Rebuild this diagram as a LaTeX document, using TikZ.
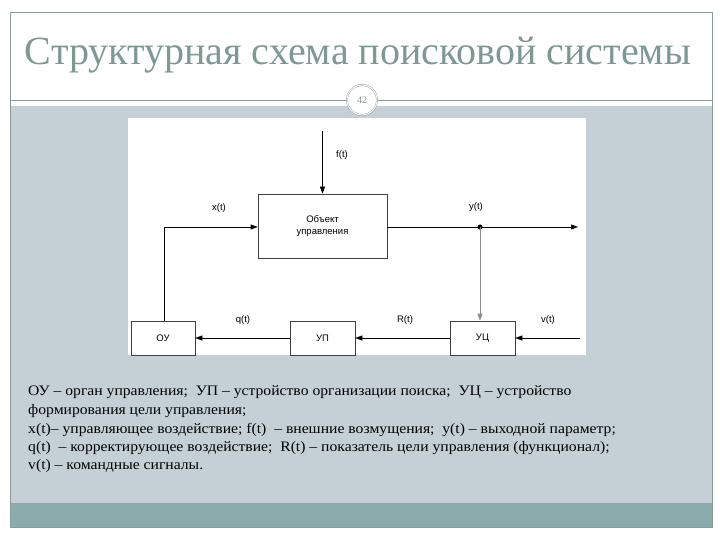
\documentclass[tikz,border=0pt]{standalone}
\usepackage{fontspec}
\setmainfont{Liberation Serif}
\newfontfamily\dsans{Liberation Sans}
\usetikzlibrary{arrows.meta}
\definecolor{slgray}{HTML}{C5D0D6}
\definecolor{slteal}{HTML}{8AACAC}
\definecolor{sltitle}{HTML}{7E9893}
\definecolor{slline}{HTML}{8A9A98}
\begin{document}
\begin{tikzpicture}[x=1pt,y=-1pt,
  blk/.style={draw=black!75,fill=white,line width=0.6pt,inner sep=0pt},
  lbl/.style={font=\dsans\fontsize{9.5}{10}\selectfont,inner sep=1pt},
  arr/.style={-{Triangle[length=7pt,width=5pt]},line width=0.6pt},
  desc/.style={font=\fontsize{14.5}{16}\selectfont,anchor=west,inner sep=0pt,xscale=1.08}]
\useasboundingbox (0,0) rectangle (720,540);
\fill[white] (0,0) rectangle (720,540);
\fill[slgray] (10,106) rectangle (712,503);
\fill[slteal] (10,503) rectangle (712,527);
\draw[slline,line width=0.6pt] (10,12) rectangle (712,527);
\draw[slline,line width=0.8pt] (10,100) -- (712,100);
\node[circle,draw=slline,double=white,double distance=1pt,fill=white,minimum size=30pt,inner sep=0pt,font=\fontsize{10}{10}\selectfont,text=slline] (pg) at (362,100) {42};
\node[text=sltitle,font=\fontsize{40}{44}\selectfont] (title) at (358,55) {Структурная схема поисковой системы};
\fill[white] (128,118) rectangle (586,355);
\node[blk,minimum width=129pt,minimum height=64pt,align=center,font=\dsans\fontsize{9.5}{11.5}\selectfont] (obj) at (322.5,226) {Объект\\управления};
\node[blk,minimum width=64pt,minimum height=34pt,font=\dsans\fontsize{9.5}{10}\selectfont] (ou) at (163,338) {ОУ};
\node[blk,minimum width=65pt,minimum height=34pt,font=\dsans\fontsize{9.5}{10}\selectfont] (up) at (322.5,338) {УП};
\node[blk,minimum width=65pt,minimum height=34pt,font=\dsans\fontsize{9.5}{10}\selectfont] (uc) at (482.5,338) {УЦ};
\coordinate (ftop) at (322.5,131);
\coordinate (dot) at (480,227);
\coordinate (outp) at (578,227);
\coordinate (vin) at (580,338);
\coordinate (xc) at (164,227);
\draw[arr] (ftop) -- (obj.north);
\draw[arr] (ou.north -| xc) -- (xc) -- (obj.west |- xc);
\draw[arr] (obj.east |- dot) -- (outp);
\fill (dot) circle (2.5pt);
\draw[arr,black!45] (dot) -- (uc.north -| dot);
\draw[arr] (vin) -- (uc.east);
\draw[arr] (uc.west) -- (up.east);
\draw[arr] (up.west) -- (ou.east);
\node[lbl] (lf) at (342,155) {f(t)};
\node[lbl] (lx) at (219,208) {x(t)};
\node[lbl] (ly) at (476,207) {y(t)};
\node[lbl] (lq) at (243,320) {q(t)};
\node[lbl] (lr) at (405,320) {R(t)};
\node[lbl] (lv) at (548,320) {v(t)};
\node[desc] (d1) at (28,392) {ОУ – орган управления;\ \ УП – устройство организации поиска;\ \ УЦ – устройство};
\node[desc] (d2) at (28,411) {формирования цели управления;};
\node[desc] (d3) at (28,430) {x(t)– управляющее воздействие; f(t) \ – внешние возмущения;\ \ y(t) – выходной параметр;};
\node[desc] (d4) at (28,448) {q(t) \ – корректирующее воздействие;\ \ R(t) – показатель цели управления (функционал);};
\node[desc] (d5) at (28,466) {v(t) – командные сигналы.};
\end{tikzpicture}
\end{document}
